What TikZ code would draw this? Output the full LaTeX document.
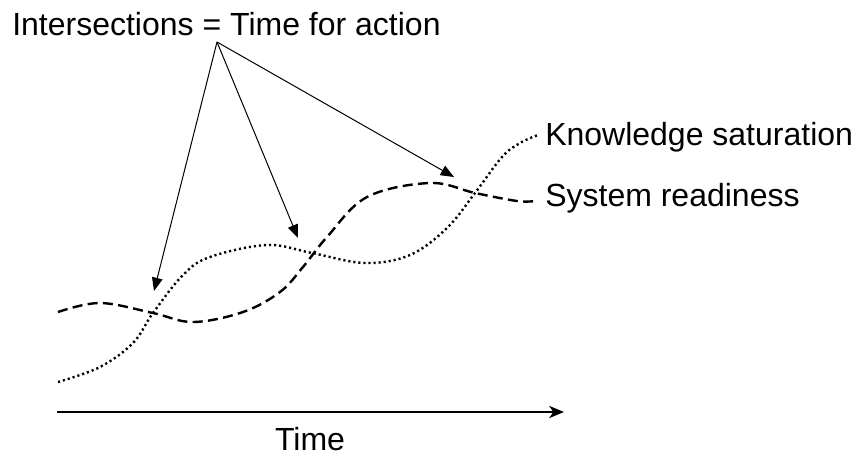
\documentclass[tikz,border=0pt]{standalone}
\usepackage{fontspec}
\setmainfont{Liberation Sans}
\usetikzlibrary{arrows.meta,positioning}
\tikzset{
label/.style={font=\fontsize{24}{28}\selectfont, inner sep=0pt}, % all texts
pointer/.style={-{Triangle[length=10pt,width=8pt]}, line width=0.75pt}, % thin arrows to the intersections
readiness/.style={line width=1.8pt, dash pattern=on 7.5pt off 4pt}, % dashed curve
knowledge/.style={line width=1.8pt, dash pattern=on 1.6pt off 2.2pt}, % dotted curve
axis/.style={-{Stealth[length=11pt,width=9pt,inset=3pt]}, line width=1.8pt}, % time axis
}

\begin{document}
\begin{tikzpicture}[x=0.75pt, y=-0.75pt]
\useasboundingbox (0,0) rectangle (860,455);
\node[label, anchor=base west] (title) at (12,35) {Intersections = Time for action};
\coordinate (apex) at (217,42);
\coordinate (hit1) at (154,291);
\coordinate (hit2) at (298,238);
\coordinate (hit3) at (454,177);
\draw[pointer] (apex) -- (hit1);
\draw[pointer] (apex) -- (hit2);
\draw[pointer] (apex) -- (hit3);
% the two curves
\draw[readiness] plot[smooth, tension=0.6] coordinates {(58,312) (100,303) (153,313) (193,322) (243,312) (280,292) (303,267) (327,237) (367,197) (430,183) (475,193) (517,201) (535,201)};
\draw[knowledge] plot[smooth, tension=0.6] coordinates {(58,382) (100,367) (133,343) (153,313) (183,275) (210,257) (267,245) (312,253) (365,263) (410,255) (447,228) (475,193) (502,157) (520,143) (538,135)};
\node[label, anchor=base west] (know) at (545,145) {Knowledge saturation};
\node[label, anchor=base west] (ready) at (545,206) {System readiness};
% time axis
\coordinate (t0) at (57,412);
\coordinate (t1) at (564,412);
\draw[axis] (t0) -- (t1);
\node[label, anchor=base] (time) at (310,450) {Time};
\end{tikzpicture}
\end{document}
